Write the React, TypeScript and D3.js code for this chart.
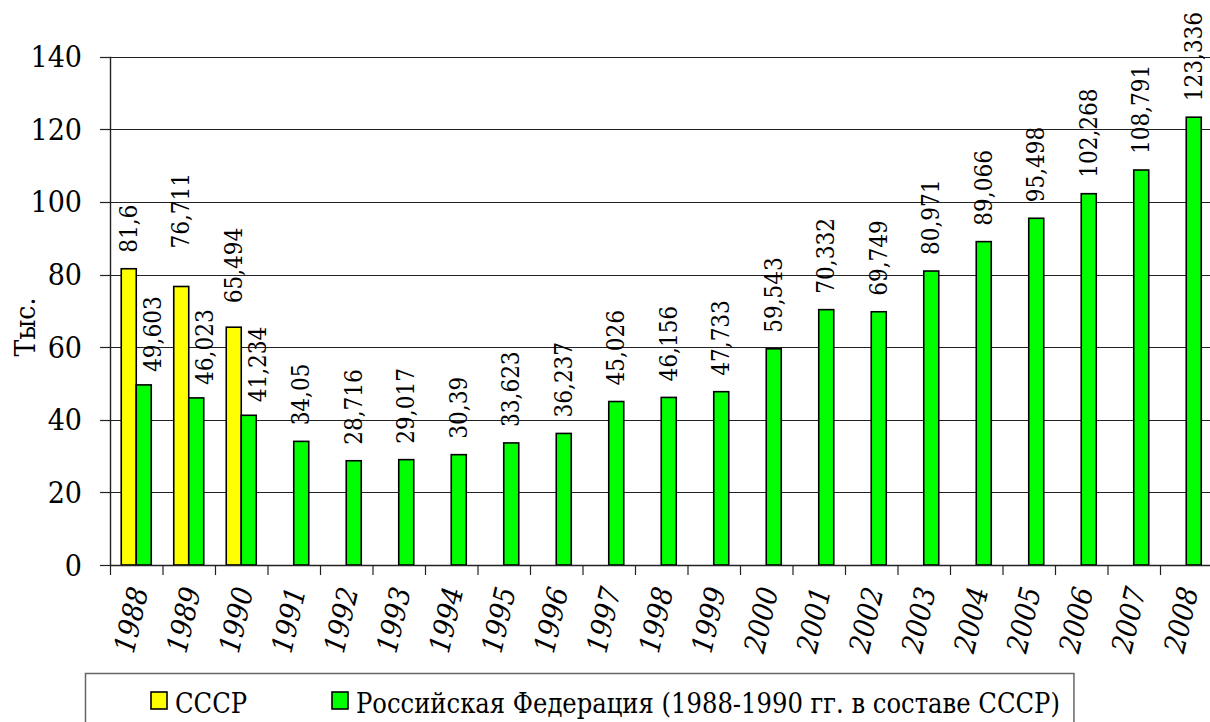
import React, { useRef, useEffect } from 'react';
import * as d3 from 'd3';

const years = ['1988', '1989', '1990', '1991', '1992', '1993', '1994', '1995', '1996', '1997', '1998',
  '1999', '2000', '2001', '2002', '2003', '2004', '2005', '2006', '2007', '2008'];
const ussr: (number | null)[] = [81.6, 76.711, 65.494, null, null, null, null, null, null, null, null,
  null, null, null, null, null, null, null, null, null, null];
const russia = [49.603, 46.023, 41.234, 34.05, 28.716, 29.017, 30.39, 33.623, 36.237, 45.026, 46.156,
  47.733, 59.543, 70.332, 69.749, 80.971, 89.066, 95.498, 102.268, 108.791, 123.336];
const yTicks = [0, 20, 40, 60, 80, 100, 120, 140];
const legendNames = ['СССР', 'Российская Федерация (1988-1990 гг. в составе СССР)'];
const colors = ['#ffff00', '#00ff00'];

const fmt = (v: number) => String(v).replace('.', ',');

const App: React.FC = () => {
  const svgRef = useRef<SVGSVGElement | null>(null);

  useEffect(() => {
    if (!svgRef.current) return;
    const width = 1210;
    const height = 722;
    const left = 110;
    const band = 52.5;
    const font = "'DejaVu Serif Condensed', 'DejaVu Serif', serif";

    const svg = d3.select(svgRef.current).attr('width', width).attr('height', height);
    svg.selectAll('*').remove();
    const root = svg.append('g')
      .style('font-family', font)
      .style('font-stretch', 'condensed');

    const x = d3.scaleBand<string>().domain(years).range([left, left + band * years.length]).padding(0);
    const y = d3.scaleLinear().domain([0, 140]).range([565, 56.7]);
    const bw = x.bandwidth() / 3.5;
    const right = left + band * years.length;

    // gridlines
    root.append('g')
      .selectAll('line')
      .data(yTicks.filter(t => t > 0))
      .enter()
      .append('line')
      .attr('x1', left).attr('x2', right)
      .attr('y1', d => Math.round(y(d)) + 0.5).attr('y2', d => Math.round(y(d)) + 0.5)
      .attr('stroke', '#222').attr('stroke-width', 1.2);

    // bars
    const series = [ussr, russia];
    series.forEach((vals, si) => {
      root.append('g')
        .selectAll('rect')
        .data(years.map((yr, i) => ({ yr, v: vals[i] })).filter(d => d.v != null) as { yr: string; v: number }[])
        .enter()
        .append('rect')
        .attr('x', d => (x(d.yr) as number) + bw * (0.75 + si))
        .attr('y', d => y(d.v))
        .attr('width', bw)
        .attr('height', d => y(0) - y(d.v))
        .attr('fill', colors[si])
        .attr('stroke', '#000')
        .attr('stroke-width', 1.6);
    });

    // data labels
    series.forEach((vals, si) => {
      root.append('g')
        .selectAll('text')
        .data(years.map((yr, i) => ({ yr, i, v: vals[i] })).filter(d => d.v != null) as { yr: string; i: number; v: number }[])
        .enter()
        .append('text')
        .attr('transform', d => {
          const both = ussr[d.i] != null;
          const cx = (x(d.yr) as number) + bw * (1.25 + si) + (both && si === 1 ? 9 : 0);
          let lift = 16;
          if (si === 0 && d.i === 1) lift = 38;
          if (si === 0 && d.i === 2) lift = 24;
          if (si === 1 && both) lift = 13;
          return `translate(${cx},${y(d.v) - lift}) rotate(-90)`;
        })
        .attr('dominant-baseline', 'central')
        .attr('text-anchor', 'start')
        .style('font-size', '24px')
        .text(d => fmt(d.v));
    });

    // y axis
    root.append('line')
      .attr('x1', left + 0.5).attr('x2', left + 0.5)
      .attr('y1', y(140)).attr('y2', y(0))
      .attr('stroke', '#222').attr('stroke-width', 1.4);
    const yg = root.append('g');
    yg.selectAll('line')
      .data(yTicks)
      .enter()
      .append('line')
      .attr('x1', left - 10).attr('x2', left)
      .attr('y1', d => Math.round(y(d)) + 0.5).attr('y2', d => Math.round(y(d)) + 0.5)
      .attr('stroke', '#222').attr('stroke-width', 1.2);
    yg.selectAll('text')
      .data(yTicks)
      .enter()
      .append('text')
      .attr('x', 82)
      .attr('y', d => y(d))
      .attr('text-anchor', 'end')
      .attr('dominant-baseline', 'central')
      .style('font-size', '30px')
      .text(d => d);

    root.append('text')
      .attr('transform', 'translate(25,327) rotate(-90)')
      .attr('text-anchor', 'middle')
      .attr('dominant-baseline', 'central')
      .style('font-size', '28px')
      .text('Тыс.');

    // x axis
    root.append('line')
      .attr('x1', left).attr('x2', right)
      .attr('y1', y(0) + 0.5).attr('y2', y(0) + 0.5)
      .attr('stroke', '#222').attr('stroke-width', 1.4);
    root.append('g')
      .selectAll('line')
      .data(years)
      .enter()
      .append('line')
      .attr('x1', d => (x(d) as number) + 0.5).attr('x2', d => (x(d) as number) + 0.5)
      .attr('y1', y(0)).attr('y2', y(0) + 10)
      .attr('stroke', '#222').attr('stroke-width', 1.2);
    root.append('g')
      .selectAll('text')
      .data(years)
      .enter()
      .append('text')
      .attr('transform', d => `translate(${(x(d) as number) + band / 2 - 5},620) rotate(-77)`)
      .attr('text-anchor', 'middle')
      .attr('dominant-baseline', 'central')
      .style('font-size', '29px')
      .style('font-style', 'italic')
      .text(d => d);

    // legend
    const lg = root.append('g');
    const box = lg.append('rect')
      .attr('x', 85.5).attr('y', 673.5)
      .attr('height', 80)
      .attr('fill', '#fff')
      .attr('stroke', '#666').attr('stroke-width', 1.5);
    const itemX = [151, 332];
    let endX = 0;
    legendNames.forEach((name, i) => {
      lg.append('rect')
        .attr('x', itemX[i]).attr('y', 692)
        .attr('width', 16).attr('height', 17)
        .attr('fill', colors[i])
        .attr('stroke', '#000').attr('stroke-width', 1.6);
      const t = lg.append('text')
        .attr('x', itemX[i] + 24).attr('y', 713)
        .style('font-size', '27px')
        .text(name);
      const node = t.node() as SVGTextElement;
      endX = itemX[i] + 24 + node.getComputedTextLength();
    });
    box.attr('width', endX + 14 - 85.5);
  }, []);

  return <svg ref={svgRef} style={{ position: 'absolute', left: 0, top: 0 }}></svg>;
};

export default App;
